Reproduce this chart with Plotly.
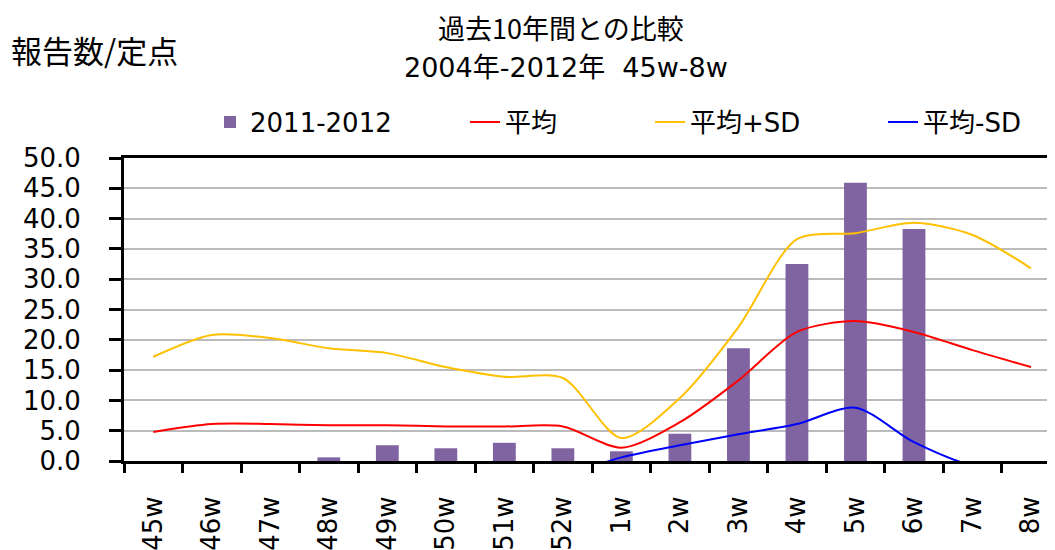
import plotly.graph_objects as go

weeks = ["45w", "46w", "47w", "48w", "49w", "50w", "51w", "52w",
         "1w", "2w", "3w", "4w", "5w", "6w", "7w", "8w"]
reports_2011_2012 = [0, 0, 0, 0.6, 2.6, 2.1, 3.0, 2.1,
                     1.6, 4.5, 18.6, 32.5, 45.9, 38.3, None, None]
mean_vals = [4.8, 6.1, 6.1, 5.9, 5.9, 5.7, 5.7, 5.7,
             2.2, 6.4, 13.3, 21.3, 23.1, 21.3, 18.3, 15.5]
mean_plus_sd = [17.2, 20.8, 20.3, 18.6, 17.8, 15.5, 13.9, 13.7,
                3.8, 10.4, 22.1, 36.6, 37.6, 39.3, 37.3, 31.8]
mean_minus_sd = [-7.6, -8.6, -8.1, -6.8, -6.0, -4.1, -2.5, -2.3,
                 0.6, 2.6, 4.4, 6.1, 8.8, 3.1, -0.7, -0.8]
y_ticks = [0, 5, 10, 15, 20, 25, 30, 35, 40, 45, 50]

# page body offsets the figure by 8px; work in screen coordinates
OFF = 8
W, H = 1055 - OFF, 550 - OFF
ML, MR, MT, MB = 124 - OFF, 0, 158 - OFF, 550 - 461
PW = W - ML - MR
PH = H - MT - MB

def px_x(p):
    return (p - OFF - ML) / PW

def px_y(p):
    return (H - MB - (p - OFF)) / PH

latin = "DejaVu Sans, Noto Sans CJK JP"
cjk = "Noto Sans CJK JP, DejaVu Sans"

fig = go.Figure()
fig.add_trace(go.Bar(x=weeks, y=reports_2011_2012, name="2011-2012",
                     marker=dict(color="#8064A2", line=dict(width=0)),
                     legend="legend"))
fig.add_trace(go.Scatter(x=weeks, y=mean_vals, name="平均", mode="lines",
                         line=dict(color="#FF0000", width=2, shape="spline", smoothing=0.8),
                         legend="legend2"))
fig.add_trace(go.Scatter(x=weeks, y=mean_plus_sd, name="平均+SD", mode="lines",
                         line=dict(color="#FFC000", width=2, shape="spline", smoothing=0.8),
                         legend="legend3"))
fig.add_trace(go.Scatter(x=weeks, y=mean_minus_sd, name="平均-SD", mode="lines",
                         line=dict(color="#0000FF", width=2, shape="spline", smoothing=0.8),
                         legend="legend4"))

ly = px_y(122)
def leg(xp):
    return dict(x=px_x(xp), y=ly, xanchor="left", yanchor="middle",
                orientation="h", font=dict(family=latin, size=26, color="#000"),
                bgcolor="rgba(0,0,0,0)", itemwidth=30)

fig.update_layout(
    width=W, height=H,
    margin=dict(l=ML, r=MR, t=MT, b=MB),
    paper_bgcolor="white", plot_bgcolor="white",
    bargap=0.61,
    showlegend=True,
    legend=leg(210), legend2=leg(465), legend3=leg(650), legend4=leg(883),
    annotations=[
        dict(text="過去10年間との比較", x=px_x(561), y=px_y(28),
             xref="paper", yref="paper", xanchor="center", yanchor="middle",
             showarrow=False, font=dict(family=cjk, size=27, color="#000")),
        dict(text="2004年-2012年  45w-8w", x=px_x(566), y=px_y(68),
             xref="paper", yref="paper", xanchor="center", yanchor="middle",
             showarrow=False, font=dict(family=latin, size=27, color="#000")),
        dict(text="報告数/定点", x=px_x(9), y=px_y(50),
             xref="paper", yref="paper", xanchor="left", yanchor="middle",
             showarrow=False, font=dict(family=cjk, size=31, color="#000")),
    ],
    xaxis=dict(type="category", range=[-0.5, 15.41], tickson="boundaries",
               ticks="outside", ticklen=9, tickwidth=3, tickcolor="#000",
               showline=True, linecolor="#000", linewidth=3, mirror=True,
               showgrid=False, tickangle=-90, ticklabelstandoff=22,
               tickfont=dict(family=latin, size=26, color="#000")),
    yaxis=dict(range=[0, 50], tickvals=y_ticks, tickformat=".1f",
               ticks="outside", ticklen=12, tickwidth=3, tickcolor="#000",
               showline=True, linecolor="#000", linewidth=3,
               showgrid=True, gridcolor="#BBBBBB", gridwidth=2,
               zeroline=False, ticklabelstandoff=23,
               tickfont=dict(family=latin, size=26, color="#000")),
)
fig.update_xaxes(automargin=False)
fig.update_yaxes(automargin=False)

fig.write_html("out.html")
